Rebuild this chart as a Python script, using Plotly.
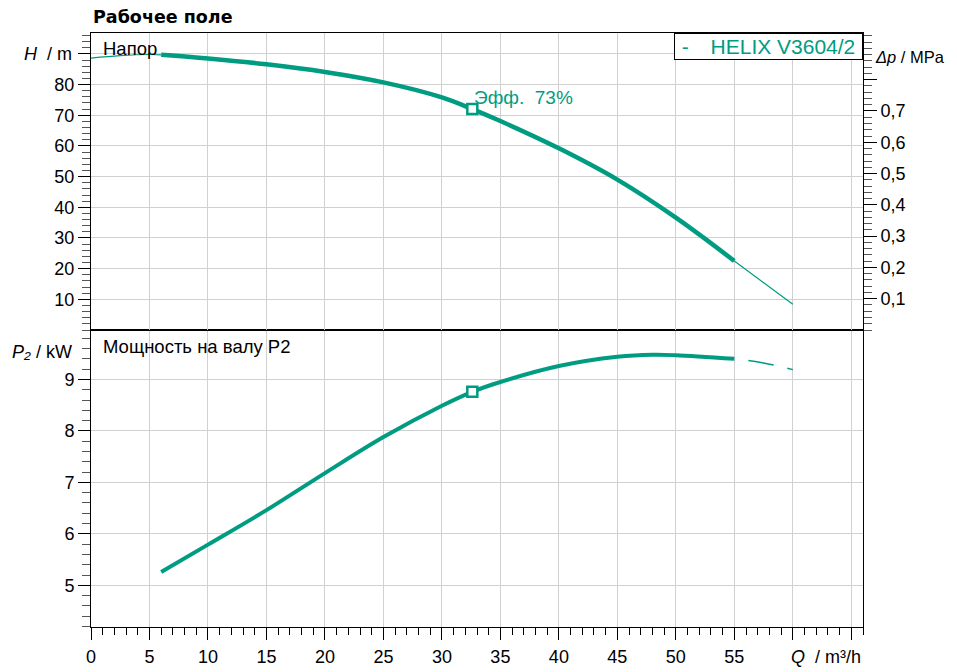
import plotly.graph_objects as go

TEAL = "#009c82"
FONT = "Liberation Sans"

# ---- data ----
# Head curve (m) vs flow Q (m3/h)
Q_head_start = [0, 2.5, 5, 6]
H_start = [88.6, 89.4, 89.8, 89.7]
Q_head = [6, 10, 15, 20, 25, 30, 32.6, 35, 40, 45, 50, 55]
H_head = [89.7, 88.5, 86.6, 84.1, 80.7, 75.8, 72.0, 68.1, 59.2, 49.0, 36.6, 22.5]
Q_head_end = [55, 60]
H_end = [22.5, 8.4]

# Shaft power P2 (kW) vs flow
Q_pow = [6, 10, 15, 20, 25, 30, 32.6, 35, 40, 45, 48, 50, 55]
P_pow = [5.26, 5.79, 6.46, 7.18, 7.88, 8.49, 8.76, 8.95, 9.26, 9.44, 9.48, 9.47, 9.40]
Q_pow_end = [55, 57.5, 60]
P_end = [9.40, 9.32, 9.19]

# Duty point
Q_duty = 32.6
H_duty = 72.0
P_duty = 8.76
eff_label = "Эфф.\u00a0\u00a073%"
legend_label = "\u00a0-\u00a0\u00a0\u00a0\u2009HELIX V3604/2\u00a0"

x_ticks = list(range(0, 70, 5))
x_ticktext = [str(v) if v <= 55 else "" for v in x_ticks]
h_ticks = list(range(10, 100, 10))
h_ticktext = [str(v) if v <= 80 else "" for v in h_ticks]
p_ticks = [5, 6, 7, 8, 9]
dp_ticks = [0.1, 0.2, 0.3, 0.4, 0.5, 0.6, 0.7, 0.8]
dp_ticktext = ["0,1", "0,2", "0,3", "0,4", "0,5", "0,6", "0,7", ""]

H_MAX = 96.8
M_TO_MPA = 0.00980665

fig = go.Figure()

# Head curve
fig.add_trace(go.Scatter(x=Q_head_start, y=H_start, xaxis="x2", yaxis="y2", mode="lines",
                         line=dict(color=TEAL, width=1.2, shape="spline"), hoverinfo="skip"))
fig.add_trace(go.Scatter(x=Q_head, y=H_head, xaxis="x2", yaxis="y2", mode="lines",
                         line=dict(color=TEAL, width=4.5, shape="spline"), hoverinfo="skip"))
fig.add_trace(go.Scatter(x=Q_head_end, y=H_end, xaxis="x2", yaxis="y2", mode="lines",
                         line=dict(color=TEAL, width=1.2), hoverinfo="skip"))
fig.add_trace(go.Scatter(x=[Q_duty], y=[H_duty], xaxis="x2", yaxis="y2", mode="markers",
                         marker=dict(symbol="square", size=10, color="white",
                                     line=dict(color=TEAL, width=2.5))))
# invisible trace for the right-hand MPa axis
fig.add_trace(go.Scatter(x=[None], y=[None], xaxis="x2", yaxis="y3", mode="lines",
                         hoverinfo="skip"))

# Power curve
fig.add_trace(go.Scatter(x=Q_pow, y=P_pow, xaxis="x", yaxis="y", mode="lines",
                         line=dict(color=TEAL, width=4, shape="spline"), hoverinfo="skip"))
fig.add_trace(go.Scatter(x=Q_pow_end, y=P_end, xaxis="x", yaxis="y", mode="lines",
                         line=dict(color=TEAL, width=1.5, dash="0px,14px,26px,0px", shape="spline"),
                         hoverinfo="skip"))
fig.add_trace(go.Scatter(x=[Q_duty], y=[P_duty], xaxis="x", yaxis="y", mode="markers",
                         marker=dict(symbol="square", size=10, color="white",
                                     line=dict(color=TEAL, width=2.5))))

GRID = "#d0d0d0"
common = dict(showline=True, linecolor="black", linewidth=1, mirror=True, zeroline=False,
              automargin=False,
              gridcolor=GRID, gridwidth=1, tickfont=dict(family=FONT, size=18, color="black"))

# The page adds an 8px body margin, so the figure is 8px smaller than the window.
fig.update_layout(
    width=949, height=664,
    margin=dict(l=83, r=94, t=25, b=45),
    paper_bgcolor="white", plot_bgcolor="white",
    showlegend=False,
    font=dict(family=FONT, size=18, color="black"),
    xaxis=dict(domain=[0, 1], anchor="y", range=[0, 66],
               tickmode="array", tickvals=x_ticks, ticktext=x_ticktext,
               ticks="outside", ticklen=12, tickcolor="black", showgrid=True,
               ticklabelstandoff=1,
               minor=dict(tickmode="linear", tick0=0, dtick=1, ticks="outside", ticklen=7,
                          tickcolor="black", showgrid=False),
               **common),
    xaxis2=dict(domain=[0, 1], anchor="y2", range=[0, 66], matches="x",
                tickmode="array", tickvals=x_ticks, showticklabels=False, ticks="",
                showgrid=True, **common),
    yaxis=dict(domain=[0, 0.5], anchor="x", range=[4.19, 9.96],
               tickmode="array", tickvals=p_ticks,
               ticks="outside", ticklen=12, tickcolor="black", showgrid=True,
               minor=dict(tickmode="linear", tick0=0, dtick=0.2, ticks="outside", ticklen=8,
                          tickcolor="#555", showgrid=False),
               **common),
    yaxis2=dict(domain=[0.5, 1], anchor="x2", range=[0, H_MAX],
                tickmode="array", tickvals=h_ticks, ticktext=h_ticktext,
                ticks="outside", ticklen=12, tickcolor="black", showgrid=True,
                minor=dict(tickmode="linear", tick0=0, dtick=2, ticks="outside", ticklen=8,
                           tickcolor="#555", showgrid=False),
                **common),
    yaxis3=dict(overlaying="y2", side="right", anchor="x2", range=[0, H_MAX * M_TO_MPA],
                tickmode="array", tickvals=dp_ticks, ticktext=dp_ticktext,
                ticks="outside", ticklen=13, tickcolor="black", showgrid=False,
                showline=False, zeroline=False, automargin=False,
                tickfont=dict(family=FONT, size=18, color="black"),
                minor=dict(tickmode="linear", tick0=0, dtick=0.02, ticks="outside", ticklen=8,
                           tickcolor="#555", showgrid=False)),
)

ann = []
ann.append(dict(text="<b>Рабочее поле</b>", xref="paper", yref="paper", x=0, y=(627 - 16.5) / 594,
                xanchor="left", yanchor="middle", showarrow=False,
                font=dict(family="DejaVu Sans", size=17.5, color="black")))
ann.append(dict(text="Напор", xref="paper", yref="paper", x=(101 - 91) / 772, y=(627 - 48) / 594,
                xanchor="left", yanchor="middle", showarrow=False,
                font=dict(family=FONT, size=18.5, color="black")))
ann.append(dict(text="Мощность на валу P2", xref="paper", yref="paper", x=(101 - 91) / 772,
                y=(627 - 346) / 594, xanchor="left", yanchor="middle", showarrow=False,
                font=dict(family=FONT, size=18.5, color="black")))
ann.append(dict(text="<i>H</i>\u00a0\u00a0/\u00a0m", xref="paper", yref="y2", x=(74 - 91) / 772, y=90,
                xanchor="right", yanchor="middle", showarrow=False,
                font=dict(family=FONT, size=18, color="black")))
ann.append(dict(text="<i>P₂</i>\u00a0/\u00a0kW", xref="paper", yref="paper", x=(74 - 91) / 772,
                y=(627 - 352) / 594, xanchor="right", yanchor="middle", showarrow=False,
                font=dict(family=FONT, size=18, color="black")))
ann.append(dict(text="<i>Q</i>\u00a0\u00a0/\u00a0m³/h", xref="paper", yref="paper", x=1,
                y=(627 - 657) / 594, xanchor="right", yanchor="middle", showarrow=False,
                font=dict(family=FONT, size=18, color="black")))
ann.append(dict(text="<i>Δp</i>\u00a0/\u00a0MPa", xref="paper", yref="paper", x=(873 - 91) / 772,
                y=(627 - 57) / 594, xanchor="left", yanchor="middle", showarrow=False,
                font=dict(family=FONT, size=16.5, color="black")))
ann.append(dict(text=eff_label, xref="x2", yref="y2", x=Q_duty, y=H_duty,
                xanchor="left", yanchor="middle", xshift=0, yshift=12, showarrow=False,
                font=dict(family=FONT, size=19, color=TEAL)))
ann.append(dict(text=legend_label, xref="paper", yref="paper", x=1, y=1,
                xanchor="right", yanchor="top", showarrow=False,
                bordercolor="black", borderwidth=1, borderpad=1, bgcolor="white",
                font=dict(family=FONT, size=21, color=TEAL)))
fig.update_layout(annotations=ann)

fig.write_html("out.html")
